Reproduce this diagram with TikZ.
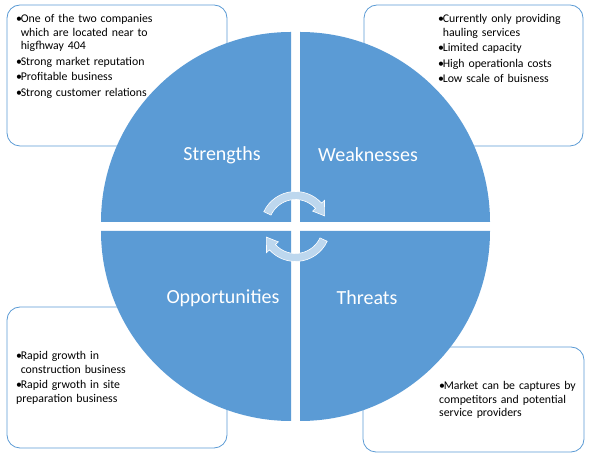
\documentclass[tikz,border=0pt]{standalone}
\usepackage{fontspec}
\setmainfont{Carlito}
\usetikzlibrary{calc}
\definecolor{swotblue}{HTML}{5B9BD5}
\definecolor{arrowfill}{HTML}{BDD7EE}
\newcommand{\bitem}[1]{\par\hangindent=4.6bp\hangafter=1\noindent\makebox[4.6bp][l]{\textbullet}#1}
\tikzset{
  quad/.style={fill=swotblue, draw=none},
  infobox/.style={draw=swotblue, line width=0.8bp, fill=white, rounded corners=13bp},
  infotext/.style={anchor=base west, inner sep=0pt, text width=215bp,
    font=\fontsize{11.8bp}{13.3bp}\selectfont, execute at begin node={\setlength{\parskip}{2.2bp}}},
  qlabel/.style={text=white, inner sep=0pt, font=\fontsize{20bp}{24bp}\selectfont},
  cyclearrow/.style={fill=arrowfill, draw=white, line width=0.6bp}
}
\begin{document}
\begin{tikzpicture}[x=1bp,y=1bp]
\useasboundingbox (0,0) rectangle (589,455);
% boxes
\draw[infobox] (7,450) rectangle (227,309);
\draw[infobox] (364,450) rectangle (583,309);
\draw[infobox] (7,148) rectangle (227,7);
\draw[infobox] (363,108) rectangle (584,3);
% quadrants
\fill[quad] (291,233) -- ++(-190,0) arc[start angle=180, end angle=90, radius=190] -- cycle;
\fill[quad] (300,233) -- ++(0,190) arc[start angle=90, end angle=0, radius=190] -- cycle;
\fill[quad] (291,224) -- ++(-190,0) arc[start angle=180, end angle=270, radius=190] -- cycle;
\fill[quad] (300,224) -- ++(0,-190) arc[start angle=270, end angle=360, radius=190] -- cycle;
% labels
\node[qlabel] (s) at (222,300) {Strengths};
\node[qlabel] (w) at (368,300) {Weaknesses};
\node[qlabel] (o) at (223,157) {Opportunities};
\node[qlabel] (t) at (367,157) {Threats};
% cycle arrows
\coordinate (C) at (295.5,228.5);
\path[cyclearrow] ($(C)+(155:35)$) arc[start angle=155, end angle=42, radius=35]
  -- ($(C)+(42:39)$) -- ($(C)+(20:31)$) -- ($(C)+(42:23)$) -- ($(C)+(42:27)$)
  arc[start angle=42, end angle=155, radius=27] -- cycle;
\path[cyclearrow] ($(C)+(335:35)$) arc[start angle=335, end angle=222, radius=35]
  -- ($(C)+(222:39)$) -- ($(C)+(200:31)$) -- ($(C)+(222:23)$) -- ($(C)+(222:27)$)
  arc[start angle=222, end angle=335, radius=27] -- cycle;
% texts
\node[infotext] (stxt) at (16,447.5) {%
\bitem{One of the two companies\newline which are located near to\newline higfhway 404}
\bitem{Strong market reputation}
\bitem{Profitable business}
\bitem{Strong customer relations}};
\node[infotext] (wtxt) at (438,447.5) {%
\bitem{Currently only providing\newline hauling services}
\bitem{Limited capacity}
\bitem{High operationla costs}
\bitem{Low scale of buisness}};
\node[infotext] (otxt) at (16,110.5) {%
\bitem{Rapid growth in\newline construction business}
\bitem{Rapid grwoth in site\newline preparation business}};
\node[infotext] (ttxt) at (439,80.5) {%
\bitem{Market can be captures by\newline competitors and potential\newline service providers}};
\end{tikzpicture}
\end{document}
